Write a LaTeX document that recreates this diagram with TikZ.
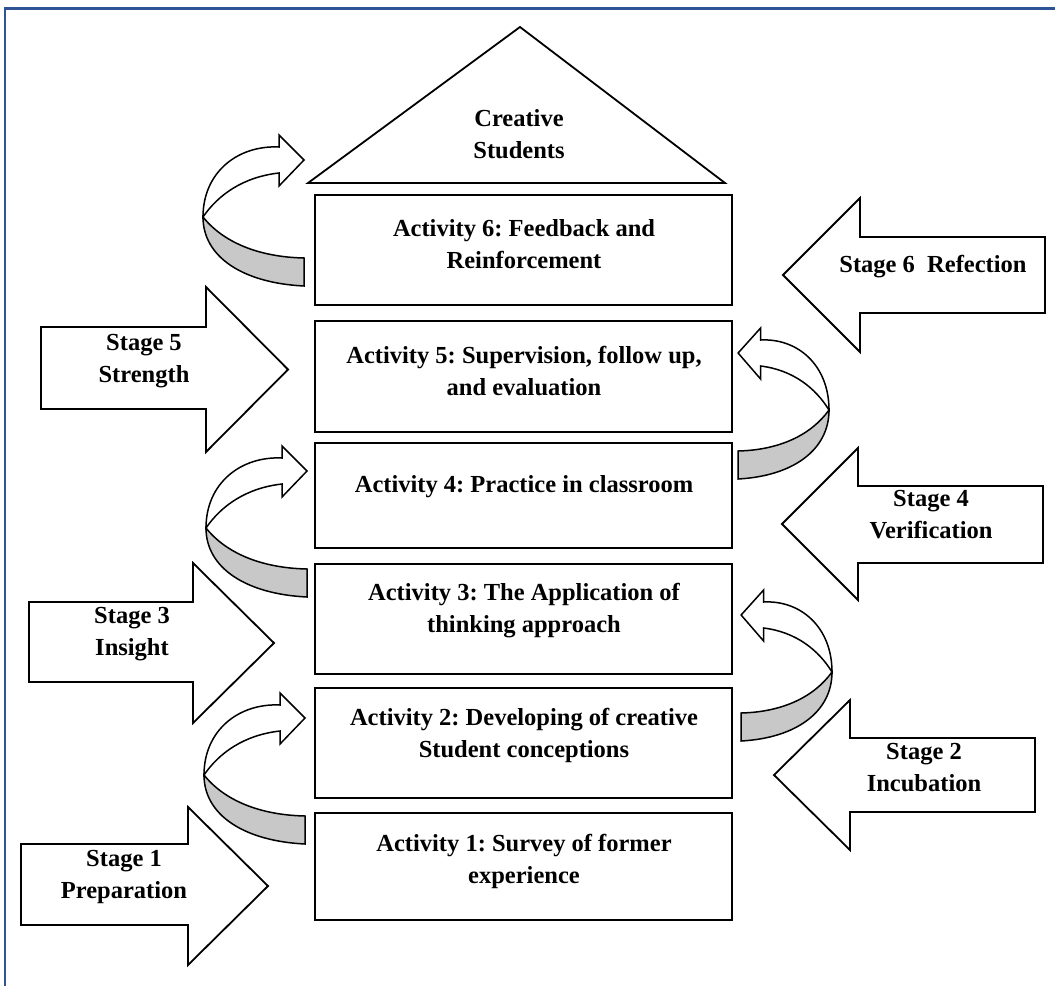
\documentclass[tikz,border=0pt]{standalone}
\usepackage{fontspec}
\setmainfont{Liberation Serif}
\frenchspacing
\definecolor{framebl}{RGB}{46,84,150}
\definecolor{ribgray}{RGB}{200,200,200}
\tikzset{
  shapeline/.style={draw=black, line width=1.8pt, line join=miter, fill=white},
  ribbonline/.style={draw=black, line width=1.5pt, line join=miter},
  lbl/.style={font=\fontsize{24.5}{32}\selectfont\bfseries, align=center, inner sep=0pt},
  curvearrow/.pic={
    \draw[ribbonline, fill=ribgray] (0,0) .. controls (20,25) and (55,40) .. (101,41) -- (101,69)
      .. controls (40,66) and (0,40) .. (0,0) -- cycle;
    \draw[ribbonline, fill=white] (0,0) .. controls (0,-45) and (35,-72) .. (76,-70) -- (76,-82)
      -- (101,-57) -- (76,-31) -- (76,-44) .. controls (40,-40) and (15,-22) .. (0,0) -- cycle;
  }
}
\begin{document}
\begin{tikzpicture}[x=1pt,y=-1pt]
\useasboundingbox (0,0) rectangle (1055,986);
\fill[white] (0,0) rectangle (1055,986);
% frame
\draw[framebl, line width=2.5pt] (5,986) -- (5,8.5) -- (1055,8.5);

% top triangle
\draw[shapeline] (308,183) -- (520,27) -- (725,183) -- cycle;
\node[lbl] (cs) at (519,134) {Creative\\Students};

% activity boxes
\draw[shapeline] (315,195) rectangle (732,305);
\node[lbl] (a6) at (524,244) {Activity 6: Feedback and\\Reinforcement};
\draw[shapeline] (315,321) rectangle (732,432);
\node[lbl] (a5) at (524,371) {Activity 5: Supervision, follow up,\\and evaluation};
\draw[shapeline] (315,443) rectangle (732,548);
\node[lbl] (a4) at (524,487) {Activity 4: Practice in classroom};
\draw[shapeline] (315,564) rectangle (732,674);
\node[lbl] (a3) at (524,611) {Activity 3: The Application of\\thinking approach};
\draw[shapeline] (315,688) rectangle (732,798);
\node[lbl] (a2) at (524,735) {Activity 2: Developing of creative\\Student conceptions};
\draw[shapeline] (315,813) rectangle (732,920);
\node[lbl] (a1) at (524,861) {Activity 1: Survey of former\\experience};

% stage arrows (right pointing)
\draw[shapeline] (41,327) -- (206,327) -- (206,287) -- (288,369.5) -- (206,452) -- (206,409) -- (41,409) -- cycle;
\node[lbl] (s5) at (144,361) {Stage 5\\Strength};
\draw[shapeline] (29,602) -- (193,602) -- (193,563) -- (274,643) -- (193,723) -- (193,682) -- (29,682) -- cycle;
\node[lbl] (s3) at (132,634) {Stage 3\\Insight};
\draw[shapeline] (21,844) -- (188,844) -- (188,807) -- (268,886) -- (188,965) -- (188,925) -- (21,925) -- cycle;
\node[lbl] (s1) at (124,877) {Stage 1\\Preparation};

% stage arrows (left pointing)
\draw[shapeline] (1045,237) -- (860,237) -- (860,198) -- (783,275) -- (860,352) -- (860,313) -- (1045,313) -- cycle;
\node[lbl] (s6) at (933,267) {Stage 6\ \ Refection};
\draw[shapeline] (1043,486) -- (858,486) -- (858,448) -- (782,524) -- (858,600) -- (858,563) -- (1043,563) -- cycle;
\node[lbl] (s4) at (931,515) {Stage 4\\Verification};
\draw[shapeline] (1035,738) -- (850,738) -- (850,700) -- (774,775) -- (850,850) -- (850,812) -- (1035,812) -- cycle;
\node[lbl] (s2) at (924,768) {Stage 2\\Incubation};

% curved arrows
\pic (c1) at (203,217) {curvearrow};
\pic (c2) at (206,528) {curvearrow};
\pic (c3) at (204,775) {curvearrow};
\pic[xscale=-0.9] (c4) at (829,410) {curvearrow};
\pic[xscale=-0.9] (c5) at (832,672) {curvearrow};
\end{tikzpicture}
\end{document}
